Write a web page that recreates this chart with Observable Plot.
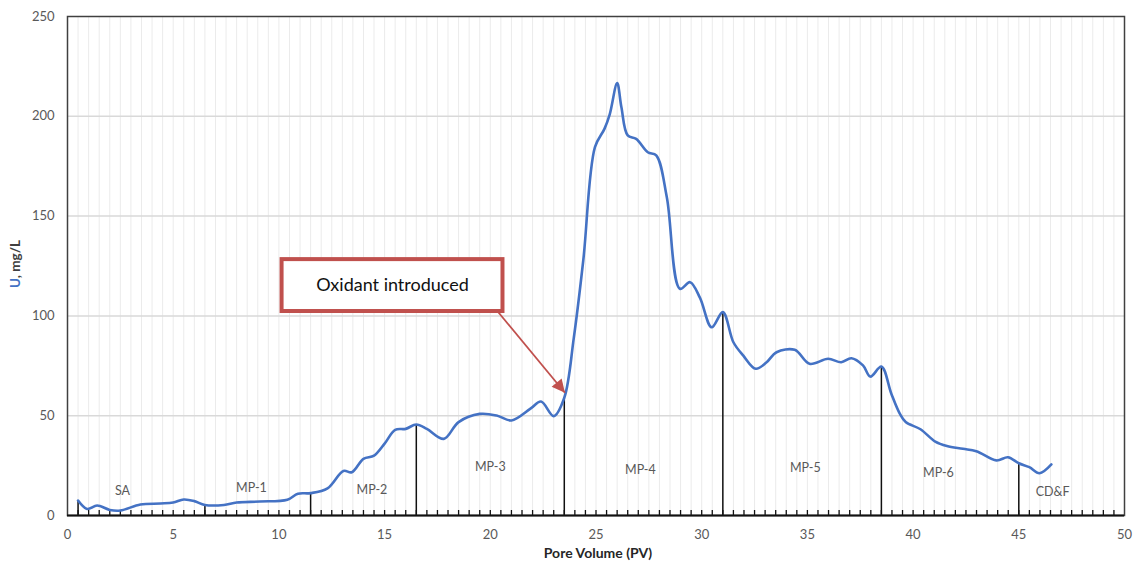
<!DOCTYPE html>
<html><head><meta charset="utf-8">
<script src="https://cdn.jsdelivr.net/npm/d3@7"></script>
<script src="https://cdn.jsdelivr.net/npm/@observablehq/plot@0.6"></script>
<style>body{margin:0;background:#fff} #chart{width:1135px;height:568px}</style>
</head><body><div id="chart"></div>
<script>
// ---- data ----
const poreVolume = [0.5,0.93,1.4,2.0,2.5,3.45,4.4,5.0,5.5,6.0,6.5,7.4,8.0,9.1,10.4,10.9,11.5,12.3,13.05,13.45,14.0,14.5,15.0,15.5,16.0,16.5,17.0,17.8,18.5,19.5,20.3,21.0,21.9,22.4,23.0,23.5,23.95,24.4,24.95,25.4,25.65,26.0,26.2,26.5,26.9,27.45,27.85,28.35,28.97,29.45,29.92,30.47,31.0,31.5,31.96,32.56,33.07,33.54,34.4,35.1,35.98,36.6,37.08,37.63,37.98,38.5,38.97,39.37,39.65,40.35,41.05,41.6,42.36,42.99,43.94,44.49,45.0,45.5,45.98,46.54];
const uranium    = [7.5,3.3,5.0,2.8,2.5,5.5,6.0,6.5,8.0,7.2,5.3,5.3,6.5,7.0,7.9,10.9,11.2,13.6,22.3,21.7,28.4,30.0,36.0,42.9,43.4,45.6,43.4,38.4,46.8,50.9,50.1,47.6,53.5,57.1,49.8,59.0,89.0,128.0,184.5,193.7,201.0,216.6,204.6,190.4,188.7,182.0,180.4,159.5,113.6,116.9,109.0,94.3,101.9,86.8,80.2,73.5,76.8,81.8,83.0,76.0,78.5,76.8,78.8,75.2,69.6,74.6,61.0,51.0,46.8,43.2,37.0,34.8,33.4,32.2,27.6,29.2,26.2,24.2,21.2,25.6];
const phaseNames  = ["SA","MP-1","MP-2","MP-3","MP-4","MP-5","MP-6","CD&F"];
const phaseLabelX = [2.6,8.7,14.4,20.0,27.1,34.9,41.2,46.6];
const phaseLabelY = [12.5,14,13,24.5,23,24,21.5,12];
const phaseBoundaryPV = [0.5,6.5,11.5,16.5,23.5,31,38.5,45];
const xTicks = [0,5,10,15,20,25,30,35,40,45,50];
const yTicks = [0,50,100,150,200,250];
const yGrid  = [50,100,150,200];
const xMinor = d3.range(0.5, 50, 0.5);
const annotationText = "Oxidant introduced";
const annotationBox = {x1: 10.15, x2: 20.6, y1: 102.2, y2: 128.2};
const annotationArrow = {x1: 20.35, y1: 102.2, x2: 23.53, y2: 61.5};

// ---- build tables ----
const series = poreVolume.map((pv, i) => ({pv, u: uranium[i]}));
const boundaries = phaseBoundaryPV.map(pv => ({pv, u: uranium[poreVolume.indexOf(pv)]}));
const phases = phaseNames.map((name, i) => ({name, x: phaseLabelX[i], y: phaseLabelY[i]}));

const font = "Lato, 'Open Sans', 'DejaVu Sans', sans-serif";
const red = "#c0504d";

const svg = Plot.plot({
  width: 1135, height: 568,
  marginLeft: 67, marginRight: 11, marginTop: 16, marginBottom: 53,
  x: {domain: [0, 50]},
  y: {domain: [0, 250]},
  style: {fontFamily: font, background: "white", overflow: "visible"},
  marks: [
    Plot.ruleX(xMinor, {stroke: "#ebebeb", strokeWidth: 1}),
    Plot.ruleY(yGrid, {stroke: "#d9d9d9", strokeWidth: 1.5}),
    Plot.ruleX(xMinor, {y1: 0, y2: 2.5, stroke: "#111", strokeWidth: 1.3}),
    Plot.ruleX(boundaries, {x: "pv", y1: 0, y2: "u", stroke: "#111", strokeWidth: 1.5}),
    Plot.line(series, {x: "pv", y: "u", stroke: "#4472c4", strokeWidth: 2.6, curve: "catmull-rom"}),
    Plot.text(phases, {x: "x", y: "y", text: "name", fill: "#595959", fontSize: 12.5}),
    Plot.frame({stroke: "#404040", strokeWidth: 1.5}),
    Plot.ruleY([0], {stroke: "#111", strokeWidth: 2}),
    Plot.axisX(xTicks, {tickSize: 0, tickPadding: 14, fontSize: 13, color: "#595959", label: null}),
    Plot.axisY(yTicks, {tickSize: 0, tickPadding: 13, fontSize: 13, color: "#595959", label: null}),
    Plot.link([annotationArrow], {x1: "x1", y1: "y1", x2: "x2", y2: "y2", stroke: red, strokeWidth: 1.8, ariaLabel: () => "oxidant-arrow"}),
    Plot.rect([annotationBox], {x1: "x1", x2: "x2", y1: "y1", y2: "y2", fill: "white", stroke: red, strokeWidth: 4}),
    Plot.text([annotationBox], {x: d => (d.x1 + d.x2) / 2, y: d => (d.y1 + d.y2) / 2, text: () => annotationText, fontSize: 18, fill: "#111"})
  ]
});

// arrow head
const s = d3.select(svg);
const marker = s.append("defs").append("marker")
  .attr("id", "ox-head").attr("viewBox", "0 0 10 10")
  .attr("refX", 10).attr("refY", 5)
  .attr("markerWidth", 15).attr("markerHeight", 13)
  .attr("markerUnits", "userSpaceOnUse").attr("orient", "auto");
marker.append("path").attr("d", "M0,0 L10,5 L0,10 z").attr("fill", red);
s.selectAll('path[aria-label="oxidant-arrow"], g[aria-label="link"] path, g[aria-label="oxidant-arrow"] path')
  .attr("marker-end", "url(#ox-head)");

// axis titles
s.append("text").attr("x", 598).attr("y", 558).attr("text-anchor", "middle")
  .attr("font-family", font).attr("font-weight", "bold").attr("font-size", 14).attr("fill", "#262626")
  .text("Pore Volume (PV)");
const yt = s.append("text").attr("transform", "translate(20,264) rotate(-90)").attr("text-anchor", "middle")
  .attr("font-family", font).attr("font-weight", "bold").attr("font-size", 13.5);
yt.append("tspan").attr("fill", "#4472c4").text("U");
yt.append("tspan").attr("fill", "#404040").text(", mg/L");

document.getElementById("chart").append(svg);
</script>
</body></html>
